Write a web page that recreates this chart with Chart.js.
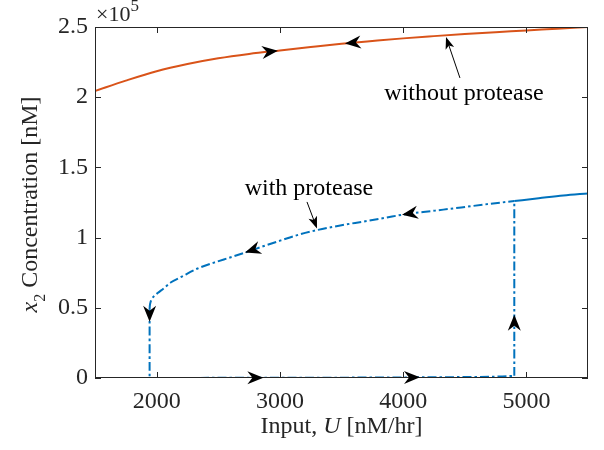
<!DOCTYPE html>
<html><head><meta charset="utf-8">
<script src="https://cdn.jsdelivr.net/npm/chart.js@4/dist/chart.umd.min.js"></script>
<style>html,body{margin:0;padding:0;background:#fff}canvas{display:block}</style>
</head><body>
<canvas id="c" width="604" height="450"></canvas>
<script>
// ---- data (x2 in nM, U in nM/hr) ----
const uWithout  = [1500,1750,2000,2250,2500,2750,3000,3250,3500,3750,4000,4250,4500,4750,5000,5250,5500];
const x2Without = [204400,211800,218500,223600,227700,230800,233300,235700,238000,240000,241900,243500,245000,246300,247500,248800,250000];

const uUpper  = [1943,1945,1949,1956,1968,1985,2008,2060,2114,2200,2333,2460,2602,2740,2870,3008,3150,3309,3480,3683,3850,4008,4240,4472,4700,4902];
const x2Upper = [49000,51500,53500,55500,57300,58800,60500,64000,68000,72000,78000,82000,86000,90000,94000,98000,102000,105500,108500,111500,114000,116500,119000,121500,124000,126000];

const uHigh  = [4902,5100,5300,5500];
const x2High = [126000,128000,130000,131500];

const uLower  = [1500,2000,2500,3000,3500,4000,4400,4700,4850,4902];
const x2Lower = [0,50,100,150,250,400,600,900,1300,1600];

const uJumpDown  = [1943,1943];
const x2JumpDown = [49000,0];
const uJumpUp  = [4902,4902];
const x2JumpUp = [1600,126000];

const xTicks = [2000,3000,4000,5000];
const yTicks = [0,50000,100000,150000,200000,250000];

// direction arrows on the curves
const arrowSeries = ['without','without','upper','upper','lower','lower','jumpDown','jumpUp'];
const arrowU      = [2984,3528,3991,2717,2866,4137,1943,4902];
const arrowX2     = [null,null,null,null,null,null,40000,45000];
const arrowDir    = ['right','left','left','left','right','right','down','up'];

// text labels with pointer arrows (data coordinates)
const labelText = ['without protease','with protease'];
const labelU    = [4494,3236];
const labelX2   = [198000,130300];
const pointerFromU  = [4461,3220];
const pointerFromX2 = [213700,125400];
const pointerToU    = [4348,3301];
const pointerToX2   = [242900,106500];

const ORANGE = '#D95319', BLUE = '#0072BD', AX = '#262626';
const FONT = "'Liberation Serif', 'Times New Roman', serif";
const DASHDOT = [9,3,2.5,3];

const pts = (u, v) => u.map((x, i) => ({x, y: v[i]}));
const seriesPts = {
  without: pts(uWithout, x2Without),
  upper: pts(uUpper, x2Upper),
  high: pts(uHigh, x2High),
  lower: pts(uLower, x2Lower),
  jumpDown: pts(uJumpDown, x2JumpDown),
  jumpUp: pts(uJumpUp, x2JumpUp)
};

function interp(p, u) {
  for (let i = 0; i < p.length - 1; i++) {
    if (u >= p[i].x && u <= p[i+1].x) {
      const t = (u - p[i].x) / (p[i+1].x - p[i].x || 1);
      return p[i].y + t * (p[i+1].y - p[i].y);
    }
  }
  return p[p.length-1].y;
}

function stealth(ctx, x, y, ang, len, half, notch) {
  ctx.save();
  ctx.translate(x, y); ctx.rotate(ang);
  ctx.beginPath();
  ctx.moveTo(0, 0);
  ctx.lineTo(-len, -half);
  ctx.lineTo(-len + notch, 0);
  ctx.lineTo(-len, half);
  ctx.closePath();
  ctx.fillStyle = '#000'; ctx.fill();
  ctx.restore();
}

function drawRich(ctx, parts, x, y, align) {
  let w = 0;
  parts.forEach(p => { ctx.font = `${p.style||''} ${p.size}px ${FONT}`; p.w = ctx.measureText(p.t).width; w += p.w; });
  let cx = align === 'center' ? x - w/2 : x;
  parts.forEach(p => {
    ctx.font = `${p.style||''} ${p.size}px ${FONT}`;
    ctx.fillText(p.t, cx, y + (p.dy||0));
    cx += p.w;
  });
}

const decor = {
  id: 'decor',
  afterDatasetsDraw(chart) {
    const {ctx, chartArea: a, scales: {x, y}} = chart;
    ctx.save();
    ctx.strokeStyle = AX; ctx.lineWidth = 1;
    ctx.strokeRect(Math.round(a.left)+0.5, Math.round(a.top)+0.5, Math.round(a.right-a.left)-1, Math.round(a.bottom-a.top)-1);
    const TL = 6;
    ctx.beginPath();
    xTicks.forEach(v => {
      const px = Math.round(x.getPixelForValue(v)) + 0.5;
      ctx.moveTo(px, a.bottom); ctx.lineTo(px, a.bottom - TL);
      ctx.moveTo(px, a.top); ctx.lineTo(px, a.top + TL);
    });
    yTicks.forEach(v => {
      const py = Math.round(y.getPixelForValue(v)) + 0.5;
      ctx.moveTo(a.left, py); ctx.lineTo(a.left + TL, py);
      ctx.moveTo(a.right, py); ctx.lineTo(a.right - TL, py);
    });
    ctx.stroke();

    arrowSeries.forEach((s, i) => {
      const p = seriesPts[s];
      const d = arrowDir[i];
      let px, py, ang;
      if (d === 'up' || d === 'down') {
        px = x.getPixelForValue(arrowU[i]); py = y.getPixelForValue(arrowX2[i]);
        ang = d === 'up' ? -Math.PI/2 : Math.PI/2;
      } else {
        const u = arrowU[i];
        px = x.getPixelForValue(u); py = y.getPixelForValue(interp(p, u));
        const x1 = x.getPixelForValue(u-40), y1 = y.getPixelForValue(interp(p, u-40));
        const x2 = x.getPixelForValue(u+40), y2 = y.getPixelForValue(interp(p, u+40));
        ang = Math.atan2(y2-y1, x2-x1);
        if (d === 'left') ang += Math.PI;
      }
      stealth(ctx, px, py, ang, 16, 6.5, 5);
    });

    ctx.fillStyle = '#000'; ctx.textAlign = 'center'; ctx.textBaseline = 'alphabetic';
    ctx.font = `24px ${FONT}`;
    labelText.forEach((t, i) => {
      ctx.fillText(t, x.getPixelForValue(labelU[i]), y.getPixelForValue(labelX2[i]));
      const fx = x.getPixelForValue(pointerFromU[i]), fy = y.getPixelForValue(pointerFromX2[i]);
      const tx = x.getPixelForValue(pointerToU[i]), ty = y.getPixelForValue(pointerToX2[i]);
      const ang = Math.atan2(ty-fy, tx-fx);
      ctx.strokeStyle = '#000'; ctx.lineWidth = 1;
      ctx.beginPath(); ctx.moveTo(fx, fy); ctx.lineTo(tx - 8*Math.cos(ang), ty - 8*Math.sin(ang)); ctx.stroke();
      stealth(ctx, tx, ty, ang, 12, 4.5, 3);
    });

    ctx.fillStyle = AX; ctx.textAlign = 'left';
    drawRich(ctx, [{t:'\u00D710', size:22, dy:0}, {t:'5', size:17, dy:-10}], a.left + 1, 21, 'left');

    drawRich(ctx, [{t:'Input, ', size:24}, {t:'U', size:24, style:'italic'}, {t:' [nM/hr]', size:24}], (a.left + a.right)/2, 433, 'center');

    ctx.save();
    ctx.translate(37, (a.top + a.bottom)/2 + 2);
    ctx.rotate(-Math.PI/2);
    drawRich(ctx, [{t:'x', size:24, style:'italic'}, {t:'2', size:16, dy:8}, {t:' Concentration [nM]', size:24}], 0, 0, 'center');
    ctx.restore();
    ctx.restore();
  }
};

const line = (name, color, dash) => ({
  data: seriesPts[name], borderColor: color, borderWidth: 2, borderDash: dash || [],
  pointRadius: 0, showLine: true, fill: false, cubicInterpolationMode: 'monotone', tension: 0.4
});

new Chart(document.getElementById('c'), {
  type: 'scatter',
  data: { datasets: [
    line('without', ORANGE),
    line('lower', BLUE, DASHDOT),
    line('jumpDown', BLUE, DASHDOT),
    line('jumpUp', BLUE, DASHDOT),
    line('upper', BLUE, DASHDOT),
    line('high', BLUE)
  ]},
  options: {
    responsive: false, animation: false, devicePixelRatio: 1,
    layout: { padding: { left: 0, top: 27, right: 16, bottom: 0 } },
    plugins: { legend: { display: false }, tooltip: { enabled: false } },
    scales: {
      x: {
        type: 'linear', min: 1500, max: 5500,
        afterBuildTicks: s => { s.ticks = xTicks.map(v => ({value: v})); },
        afterFit: s => { s.height = 72; },
        grid: { display: false, drawTicks: false }, border: { display: false },
        ticks: { padding: 9, color: AX, font: { family: FONT, size: 24 }, maxRotation: 0, callback: v => String(v) }
      },
      y: {
        min: 0, max: 250000,
        afterBuildTicks: s => { s.ticks = yTicks.map(v => ({value: v})); },
        afterFit: s => { s.width = 95; },
        grid: { display: false, drawTicks: false }, border: { display: false },
        ticks: { padding: 7, color: AX, font: { family: FONT, size: 24 }, callback: v => String(v / 100000) }
      }
    }
  },
  plugins: [decor]
});
</script>
</body></html>
